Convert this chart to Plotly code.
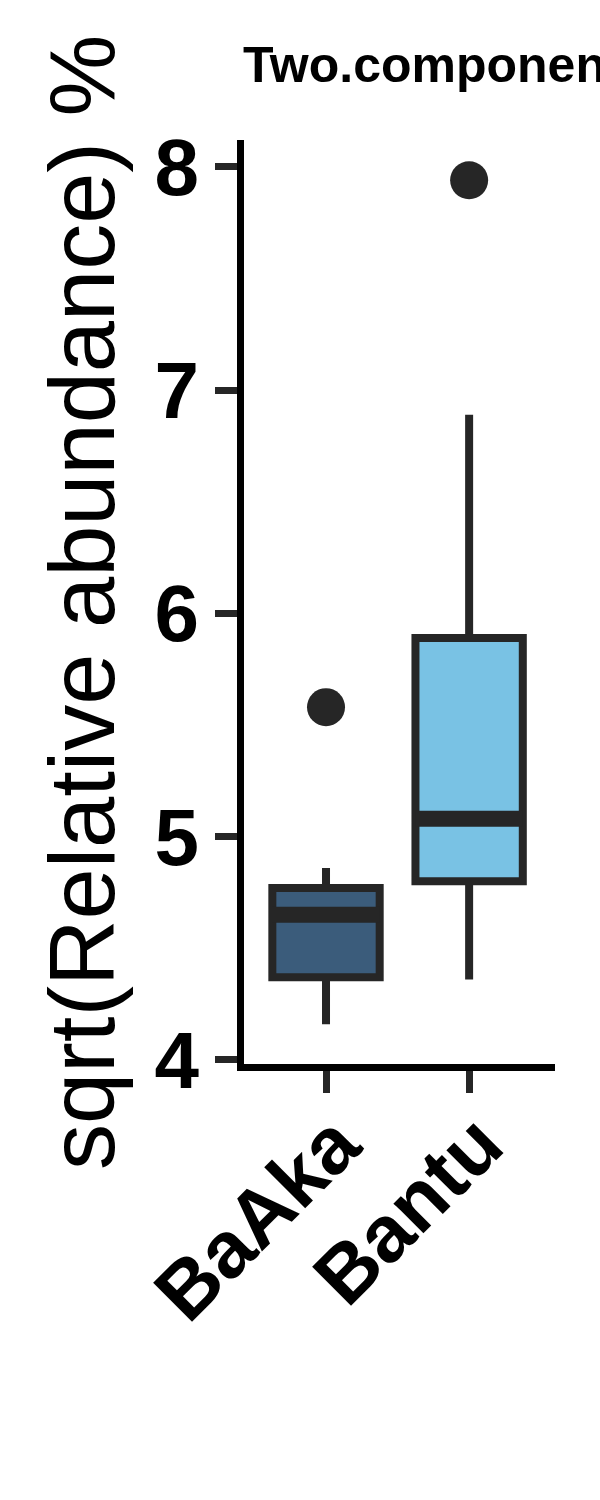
import plotly.graph_objects as go

groups = ["BaAka", "Bantu"]
fills = ["#3B5C7B", "#79C2E4"]
q1 = [4.37, 4.80]
median = [4.65, 5.08]
q3 = [4.77, 5.89]
lower_whisker = [4.16, 4.36]
upper_whisker = [4.86, 6.89]
outlier_group = [0, 1]
outlier_values = [5.58, 7.94]

title_text = "Two.component.system"
y_title = "sqrt(Relative abundance) %"
y_ticks = [4, 5, 6, 7, 8]

BOX_W = 0.75
DARK = "#262626"
FONT = "Liberation Sans, Arial, Helvetica, sans-serif"

fig = go.Figure()
for i, g in enumerate(groups):
    fig.add_trace(go.Box(
        x=[i], q1=[q1[i]], median=[median[i]], q3=[q3[i]],
        lowerfence=[lower_whisker[i]], upperfence=[upper_whisker[i]],
        width=BOX_W, whiskerwidth=0,
        fillcolor=fills[i], line=dict(color=DARK, width=8),
        boxpoints=False, showlegend=False, hoverinfo="skip",
    ))
    fig.add_trace(go.Scatter(
        x=[i - BOX_W / 2, i + BOX_W / 2], y=[median[i], median[i]],
        mode="lines", line=dict(color=DARK, width=16),
        showlegend=False, hoverinfo="skip",
    ))

fig.add_trace(go.Scatter(
    x=outlier_group, y=outlier_values, mode="markers",
    marker=dict(size=38, color=DARK, line=dict(width=0)),
    showlegend=False, hoverinfo="skip",
))

fig.update_layout(
    width=600, height=1500,
    margin=dict(l=244, r=45, t=140, b=436),
    paper_bgcolor="white", plot_bgcolor="white",
    font=dict(family=FONT, color="black"),
    xaxis=dict(
        range=[-0.573, 1.6], tickmode="array", tickvals=list(range(len(groups))),
        ticktext=groups, tickangle=-45,
        tickfont=dict(size=80, family=FONT, color="black", weight="bold"),
        ticklabelstandoff=-28, ticklabelshift=10,
        showline=True, linecolor="black", linewidth=7,
        ticks="outside", ticklen=22, tickwidth=7, tickcolor=DARK,
        showgrid=False, zeroline=False,
    ),
    yaxis=dict(
        range=[3.982, 8.12], tickmode="array", tickvals=y_ticks,
        tickfont=dict(size=80, family=FONT, color="black", weight="bold"),
        showline=True, linecolor="black", linewidth=7,
        ticks="outside", ticklen=22, tickwidth=7, tickcolor=DARK,
        showgrid=False, zeroline=False,
    ),
    annotations=[
        dict(text=y_title, xref="paper", yref="paper", x=-0.521, y=0.5,
             xanchor="center", yanchor="middle", textangle=-90, showarrow=False,
             font=dict(size=92, family=FONT, color="black")),
        dict(text=title_text, xref="paper", yref="paper", x=-0.01, y=1.081,
             xanchor="left", yanchor="middle", showarrow=False,
             font=dict(size=50, family=FONT, color="black", weight="bold")),
    ],
)

fig.write_html("out.html")
